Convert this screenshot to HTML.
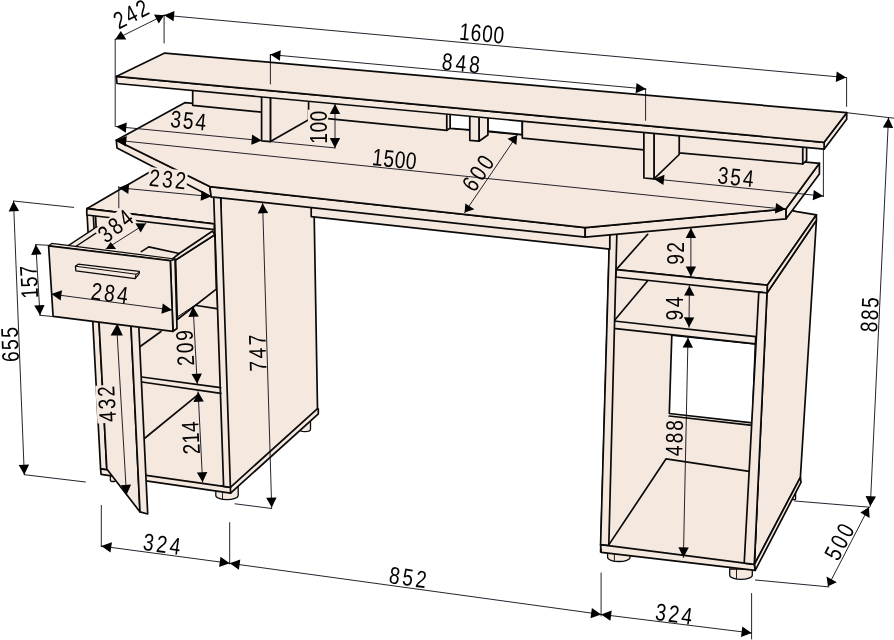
<!DOCTYPE html>
<html><head><meta charset="utf-8"><title>Desk drawing</title>
<style>
html,body{margin:0;padding:0;background:#fff;}
svg{display:block;will-change:transform;}
text{font-family:"Liberation Sans",sans-serif;fill:#000;}
</style></head><body>
<svg width="894" height="640" viewBox="0 0 894 640">
<rect width="894" height="640" fill="#fff"/>
<path d="M115.2,39.4 L115.2,126.6" fill="none" stroke="#0d0a16" stroke-width="0.9" stroke-linecap="round" stroke-linejoin="round"/>
<path d="M164.1,15.2 L164.1,43.0" fill="none" stroke="#0d0a16" stroke-width="0.9" stroke-linecap="round" stroke-linejoin="round"/>
<path d="M270.4,54.6 L270.4,84.0" fill="none" stroke="#0d0a16" stroke-width="0.9" stroke-linecap="round" stroke-linejoin="round"/>
<path d="M86.8,208.7 L160.0,166.0 L240.0,185.0 L214.3,224.0 Z" fill="#f5e8df" stroke="#0a0a0a" stroke-width="1.7" stroke-linejoin="round" stroke-linecap="round"/>
<path d="M86.8,208.7 L214.3,224.0 L225.5,488.0 L100.6,468.9 Z" fill="#f5e8df" stroke="#0a0a0a" stroke-width="1.7" stroke-linejoin="round" stroke-linecap="round"/>
<path d="M299.5,415.0 L299.5,429.2 A5.5,2.4 0 0 0 310.5,429.2 L310.5,415.0 Z" fill="#f5e8df" stroke="#0a0a0a" stroke-width="1.3"/>
<path d="M215.8,486.0 L215.8,495.4 A11.2,4.2 0 0 0 238.2,495.4 L238.2,486.0 Z" fill="#f5e8df" stroke="#0a0a0a" stroke-width="1.3"/>
<path d="M222.5,486.0 L222.5,499.0" fill="none" stroke="#0a0a0a" stroke-width="0.9"/>
<path d="M220.7,196.0 L314.0,205.0 L317.5,408.7 L318.3,409.0 L318.3,413.8 L230.6,493.2 L225.0,487.0 Z" fill="#f5e8df" stroke="#0a0a0a" stroke-width="1.7" stroke-linejoin="round" stroke-linecap="round"/>
<path d="M230.4,487.3 L317.5,408.7" fill="none" stroke="#0a0a0a" stroke-width="1.7" stroke-linecap="round" stroke-linejoin="round"/>
<path d="M110.4,474.0 L110.4,480.4 A2.5,1.1 0 0 0 115.5,480.4 L115.5,474.0 Z" fill="#f5e8df" stroke="#0a0a0a" stroke-width="1.3"/>
<path d="M100.6,468.9 L230.4,487.3 L230.6,493.2 L101.1,474.3 Z" fill="#f5e8df" stroke="#0a0a0a" stroke-width="1.7" stroke-linejoin="round" stroke-linecap="round"/>
<path d="M213.7,196.0 L220.7,197.0 L230.4,487.3 L223.6,486.3 Z" fill="#f5e8df" stroke="#0a0a0a" stroke-width="1.7" stroke-linejoin="round" stroke-linecap="round"/>
<path d="M141.8,377.0 L220.6,387.6" fill="none" stroke="#0a0a0a" stroke-width="1.7" stroke-linecap="round" stroke-linejoin="round"/>
<path d="M141.8,382.0 L220.9,393.4" fill="none" stroke="#0a0a0a" stroke-width="1.7" stroke-linecap="round" stroke-linejoin="round"/>
<path d="M139.5,347.0 L161.0,331.5" fill="none" stroke="#0a0a0a" stroke-width="1.7" stroke-linecap="round" stroke-linejoin="round"/>
<path d="M144.4,438.5 L197.8,394.9" fill="none" stroke="#0a0a0a" stroke-width="1.7" stroke-linecap="round" stroke-linejoin="round"/>
<path d="M93.4,216.4 L106.8,468.9" fill="none" stroke="#0a0a0a" stroke-width="1.7" stroke-linecap="round" stroke-linejoin="round"/>
<path d="M95.6,216.4 L96.3,231.0" fill="none" stroke="#0a0a0a" stroke-width="1.7" stroke-linecap="round" stroke-linejoin="round"/>
<rect x="213.6" y="268.5" width="2.2" height="9.8" rx="1" fill="#f5e8df" stroke="#0a0a0a" stroke-width="1"/>
<path d="M86.8,208.7 L214.3,223.8 L214.3,229.6 L86.8,215.0 Z" fill="#f5e8df" stroke="#0a0a0a" stroke-width="1.7" stroke-linejoin="round" stroke-linecap="round"/>
<path d="M98.8,318.0 L106.8,468.9 L140.0,511.9 L130.6,318.0 Z" fill="#f5e8df" stroke="#0a0a0a" stroke-width="1.7" stroke-linejoin="round" stroke-linecap="round"/>
<path d="M130.6,318.0 L138.4,318.0 L147.7,514.0 L140.0,511.9 Z" fill="#f5e8df" stroke="#0a0a0a" stroke-width="1.7" stroke-linejoin="round" stroke-linecap="round"/>
<path d="M175.6,260.0 L214.8,234.7 L216.3,289.1 L177.3,319.5 Z" fill="#f5e8df" stroke="#0a0a0a" stroke-width="1.7" stroke-linejoin="round" stroke-linecap="round"/>
<path d="M177.2,317.0 L199.6,302.3" fill="none" stroke="#0a0a0a" stroke-width="1.0" stroke-linecap="round" stroke-linejoin="round"/>
<path d="M196.5,305.5 L216.8,308.6" fill="none" stroke="#0a0a0a" stroke-width="1.7" stroke-linecap="round" stroke-linejoin="round"/>
<path d="M66.0,250.0 L97.3,229.0 L214.0,230.0 L172.0,263.0 Z" fill="#f5e8df" stroke="none" stroke-width="1.7" stroke-linejoin="round" stroke-linecap="round"/>
<path d="M170.3,260.6 L179.2,253.5 L212.6,231.0 L214.8,234.7 L175.6,260.0 Z" fill="#f5e8df" stroke="#0a0a0a" stroke-width="1.7" stroke-linejoin="round" stroke-linecap="round"/>
<path d="M65.6,247.4 L95.6,227.6 Q98.6,226.4 99.6,229.0 Q99.8,230.6 98.6,231.4 L71.6,249.2" fill="#f5e8df" stroke="#0a0a0a" stroke-width="1.3" stroke-linejoin="round"/>
<path d="M141.3,251.6 L148.8,246.9 L179.2,253.5" fill="none" stroke="#0a0a0a" stroke-width="1.7" stroke-linecap="round" stroke-linejoin="round"/>
<path d="M170.3,260.6 L175.0,259.0 L177.0,328.5 L173.0,331.3 Z" fill="#f5e8df" stroke="#0a0a0a" stroke-width="1.7" stroke-linejoin="round" stroke-linecap="round"/>
<path d="M117.3,323.5 L110.6,335.6 L122.8,335.6 Z" fill="#000"/>
<path d="M48.6,245.8 L51.8,243.4 L175.0,259.0 L170.3,260.6 Z" fill="#f5e8df" stroke="#0a0a0a" stroke-width="1.2" stroke-linejoin="round" stroke-linecap="round"/>
<path d="M48.6,245.8 L170.3,260.6 L173.0,331.3 L53.1,316.4 Z" fill="#f5e8df" stroke="#0a0a0a" stroke-width="1.7" stroke-linejoin="round" stroke-linecap="round"/>
<path d="M75.4,266.2 L78.2,264.2 L139.3,271.4 L139.3,273.3 L135.1,278.6 L75.9,270.9 Z" fill="#f5e8df" stroke="#0a0a0a" stroke-width="1.3" stroke-linejoin="round" stroke-linecap="round"/>
<path d="M75.4,266.2 L136.0,274.2 L139.3,272.2" fill="none" stroke="#0a0a0a" stroke-width="1.0" stroke-linecap="round" stroke-linejoin="round"/>
<path d="M136.0,274.2 L135.1,278.6" fill="none" stroke="#0a0a0a" stroke-width="1.0" stroke-linecap="round" stroke-linejoin="round"/>
<path d="M792.3,488.0 L792.3,499.1 A1.7,0.7 0 0 0 795.6,499.1 L795.6,488.0 Z" fill="#f5e8df" stroke="#0a0a0a" stroke-width="1.3"/>
<path d="M767.0,293.0 L816.4,220.3 L800.4,477.3 L754.3,564.7 Z" fill="#f5e8df" stroke="#0a0a0a" stroke-width="1.7" stroke-linejoin="round" stroke-linecap="round"/>
<path d="M754.3,564.7 L800.4,477.3 L801.0,482.4 L755.2,570.4 Z" fill="#f5e8df" stroke="#0a0a0a" stroke-width="1.7" stroke-linejoin="round" stroke-linecap="round"/>
<path d="M609.8,232.0 L768.3,232.0 L754.3,566.0 L600.6,552.0 Z" fill="#f5e8df" stroke="#0a0a0a" stroke-width="1.7" stroke-linejoin="round" stroke-linecap="round"/>
<path d="M616.2,269.6 L767.3,285.2 L816.4,214.8 L796.9,211.7 L700.0,190.0 L609.8,232.0 Z" fill="#f5e8df" stroke="#0a0a0a" stroke-width="1.7" stroke-linejoin="round" stroke-linecap="round"/>
<path d="M767.3,285.2 L816.4,214.8 L816.4,220.3 L767.0,293.0 Z" fill="#f5e8df" stroke="#0a0a0a" stroke-width="1.7" stroke-linejoin="round" stroke-linecap="round"/>
<path d="M671.8,335.2 L755.4,343.9 L752.3,422.9 L669.3,413.5 Z" fill="#fff" stroke="#0a0a0a" stroke-width="1.7" stroke-linejoin="round" stroke-linecap="round"/>
<path d="M669.2,416.0 L752.2,425.4" fill="none" stroke="#0a0a0a" stroke-width="1.7" stroke-linecap="round" stroke-linejoin="round"/>
<path d="M608.8,544.9 L666.1,458.8 L749.1,471.3" fill="none" stroke="#0a0a0a" stroke-width="1.7" stroke-linecap="round" stroke-linejoin="round"/>
<path d="M607.6,551.0 L607.6,557.3 A11.2,4.2 0 0 0 630.1,557.3 L630.1,551.0 Z" fill="#f5e8df" stroke="#0a0a0a" stroke-width="1.3"/>
<path d="M614.4,551.0 L614.4,560.9" fill="none" stroke="#0a0a0a" stroke-width="0.9"/>
<path d="M729.7,569.0 L729.7,575.2 A11.3,4.2 0 0 0 752.3,575.2 L752.3,569.0 Z" fill="#f5e8df" stroke="#0a0a0a" stroke-width="1.3"/>
<path d="M736.5,569.0 L736.5,578.8" fill="none" stroke="#0a0a0a" stroke-width="0.9"/>
<path d="M600.6,544.6 L754.3,564.4 L755.2,570.4 L601.3,552.3 Z" fill="#f5e8df" stroke="#0a0a0a" stroke-width="1.7" stroke-linejoin="round" stroke-linecap="round"/>
<path d="M616.2,269.6 L767.3,285.2 L767.0,293.0 L615.8,277.0 Z" fill="#f5e8df" stroke="#0a0a0a" stroke-width="1.7" stroke-linejoin="round" stroke-linecap="round"/>
<path d="M614.0,321.0 L755.8,336.7 L755.4,343.9 L613.6,328.3 Z" fill="#f5e8df" stroke="#0a0a0a" stroke-width="1.7" stroke-linejoin="round" stroke-linecap="round"/>
<path d="M616.2,269.6 L647.7,234.3" fill="none" stroke="#0a0a0a" stroke-width="1.7" stroke-linecap="round" stroke-linejoin="round"/>
<path d="M614.0,321.0 L647.3,281.3" fill="none" stroke="#0a0a0a" stroke-width="1.7" stroke-linecap="round" stroke-linejoin="round"/>
<path d="M609.6,232.0 L616.9,232.0 L608.8,545.4 L600.6,544.6 Z" fill="#f5e8df" stroke="#0a0a0a" stroke-width="1.7" stroke-linejoin="round" stroke-linecap="round"/>
<path d="M758.8,292.2 L767.0,293.0 L754.3,564.4 L744.2,563.2 Z" fill="#f5e8df" stroke="#0a0a0a" stroke-width="1.7" stroke-linejoin="round" stroke-linecap="round"/>
<path d="M311.2,205.0 L311.2,216.7 L609.8,249.1 L609.8,232.0 Z" fill="#f5e8df" stroke="#0a0a0a" stroke-width="1.7" stroke-linejoin="round" stroke-linecap="round"/>
<path d="M116.3,140.2 L209.8,186.6 L211.2,196.8 L117.0,148.0 Z" fill="#f5e8df" stroke="#0a0a0a" stroke-width="1.7" stroke-linejoin="round" stroke-linecap="round"/>
<path d="M209.8,186.6 L585.2,227.6 L585.2,237.2 L211.2,196.8 Z" fill="#f5e8df" stroke="#0a0a0a" stroke-width="1.7" stroke-linejoin="round" stroke-linecap="round"/>
<path d="M585.2,227.6 L786.1,208.8 L786.1,218.8 L585.2,237.2 Z" fill="#f5e8df" stroke="#0a0a0a" stroke-width="1.7" stroke-linejoin="round" stroke-linecap="round"/>
<path d="M786.1,208.8 L819.4,163.3 L819.4,173.9 L786.1,218.8 Z" fill="#f5e8df" stroke="#0a0a0a" stroke-width="1.7" stroke-linejoin="round" stroke-linecap="round"/>
<path d="M185.2,102.6 L116.3,140.2 L209.8,186.6 L585.2,227.6 L786.1,208.8 L819.4,163.3 Z" fill="#f5e8df" stroke="#0a0a0a" stroke-width="1.7" stroke-linejoin="round" stroke-linecap="round"/>
<path d="M450.1,108.0 L469.8,110.0 L469.8,129.9 L450.1,128.3 Z" fill="#fff" stroke="#0a0a0a" stroke-width="1.7" stroke-linejoin="round" stroke-linecap="round"/>
<path d="M487.9,112.0 L522.3,116.0 L522.3,134.5 L487.9,131.1 Z" fill="#fff" stroke="#0a0a0a" stroke-width="1.7" stroke-linejoin="round" stroke-linecap="round"/>
<path d="M192.7,85.0 L192.7,105.3 L446.8,130.3 L446.8,108.0 Z" fill="#f5e8df" stroke="#0a0a0a" stroke-width="1.7" stroke-linejoin="round" stroke-linecap="round"/>
<path d="M446.8,108.0 L450.1,108.0 L450.1,128.3 L446.8,130.3 Z" fill="#f5e8df" stroke="#0a0a0a" stroke-width="1.7" stroke-linejoin="round" stroke-linecap="round"/>
<path d="M522.3,116.0 L522.3,138.2 L643.9,149.9 L643.9,128.0 Z" fill="#f5e8df" stroke="#0a0a0a" stroke-width="1.7" stroke-linejoin="round" stroke-linecap="round"/>
<path d="M679.2,131.0 L679.2,152.8 L802.8,164.0 L802.8,142.0 Z" fill="#f5e8df" stroke="#0a0a0a" stroke-width="1.7" stroke-linejoin="round" stroke-linecap="round"/>
<path d="M802.8,142.0 L806.6,142.0 L806.6,160.4 L802.8,164.0 Z" fill="#f5e8df" stroke="#0a0a0a" stroke-width="1.7" stroke-linejoin="round" stroke-linecap="round"/>
<path d="M270.4,88.0 L308.6,92.0 L308.6,119.8 L270.4,141.6 Z" fill="#f5e8df" stroke="#0a0a0a" stroke-width="1.7" stroke-linejoin="round" stroke-linecap="round"/>
<path d="M261.6,88.0 L270.4,88.0 L270.4,141.6 L261.6,140.8 Z" fill="#f5e8df" stroke="#0a0a0a" stroke-width="1.7" stroke-linejoin="round" stroke-linecap="round"/>
<path d="M479.0,108.0 L487.9,109.0 L487.9,135.0 L479.0,141.2 Z" fill="#f5e8df" stroke="#0a0a0a" stroke-width="1.7" stroke-linejoin="round" stroke-linecap="round"/>
<path d="M469.8,108.0 L479.0,108.0 L479.0,141.2 L469.8,140.4 Z" fill="#f5e8df" stroke="#0a0a0a" stroke-width="1.7" stroke-linejoin="round" stroke-linecap="round"/>
<path d="M654.0,124.0 L679.2,126.0 L679.2,154.5 L654.0,178.9 Z" fill="#f5e8df" stroke="#0a0a0a" stroke-width="1.7" stroke-linejoin="round" stroke-linecap="round"/>
<path d="M643.9,124.0 L654.0,124.0 L654.0,178.9 L643.9,178.0 Z" fill="#f5e8df" stroke="#0a0a0a" stroke-width="1.7" stroke-linejoin="round" stroke-linecap="round"/>
<path d="M846.7,112.7 L846.7,119.3 L824.1,149.2 L824.1,142.3 Z" fill="#f5e8df" stroke="#0a0a0a" stroke-width="1.7" stroke-linejoin="round" stroke-linecap="round"/>
<path d="M116.3,76.4 L824.1,142.3 L824.1,149.2 L117.0,83.5 Z" fill="#f5e8df" stroke="#0a0a0a" stroke-width="1.7" stroke-linejoin="round" stroke-linecap="round"/>
<path d="M164.7,53.1 L846.7,112.7 L824.1,142.3 L116.3,76.4 Z" fill="#f5e8df" stroke="#0a0a0a" stroke-width="1.7" stroke-linejoin="round" stroke-linecap="round"/>
<rect transform="translate(318.0,127.2) rotate(-90.0)" x="-17.5" y="-10.1" width="35.0" height="20.2" fill="#f5e8df"/>
<rect transform="translate(167.7,179.0) rotate(5.5)" x="-19.5" y="-10.1" width="39.0" height="20.2" fill="#f5e8df"/>
<rect transform="translate(115.3,225.8) rotate(-38.7)" x="-19.5" y="-10.1" width="39.0" height="20.2" fill="#f5e8df"/>
<rect transform="translate(106.5,404.0) rotate(-93.4)" x="-19.0" y="-10.1" width="38.0" height="20.2" fill="#f5e8df"/>
<path d="M115.2,39.4 L164.1,15.2" fill="none" stroke="#0d0a16" stroke-width="0.9" stroke-linecap="round" stroke-linejoin="round"/>
<path d="M115.2,39.4 L120.8,30.9 L126.4,39.6 Z" fill="#000"/>
<path d="M164.1,15.2 L154.0,14.4 L158.8,23.4 Z" fill="#000"/>
<text transform="translate(130.9,13.8) rotate(-27.0) scale(0.8,1)" x="0" y="8.6" text-anchor="middle" textLength="45.0" lengthAdjust="spacing" font-size="24">242</text>
<path d="M164.1,15.2 L846.2,77.6" fill="none" stroke="#0d0a16" stroke-width="0.9" stroke-linecap="round" stroke-linejoin="round"/>
<path d="M164.1,15.2 L173.6,21.3 L174.5,10.9 Z" fill="#000"/>
<path d="M846.2,77.6 L836.7,71.5 L835.8,81.9 Z" fill="#000"/>
<path d="M846.6,77.6 L846.6,106.4" fill="none" stroke="#0d0a16" stroke-width="0.9" stroke-linecap="round" stroke-linejoin="round"/>
<text transform="translate(481.8,33.0) rotate(5.2) scale(0.8,1)" x="0" y="8.6" text-anchor="middle" textLength="56.2" lengthAdjust="spacing" font-size="24">1600</text>
<path d="M270.4,54.6 L270.4,84.0" fill="none" stroke="#0d0a16" stroke-width="0.9" stroke-linecap="round" stroke-linejoin="round"/>
<path d="M270.4,54.6 L646.0,89.0" fill="none" stroke="#0d0a16" stroke-width="0.9" stroke-linecap="round" stroke-linejoin="round"/>
<path d="M270.4,54.6 L279.9,60.7 L280.8,50.3 Z" fill="#000"/>
<path d="M646.0,89.0 L636.5,82.9 L635.6,93.3 Z" fill="#000"/>
<path d="M645.6,89.0 L645.6,120.3" fill="none" stroke="#0d0a16" stroke-width="0.9" stroke-linecap="round" stroke-linejoin="round"/>
<text transform="translate(461.0,62.8) rotate(5.3) scale(0.8,1)" x="0" y="8.6" text-anchor="middle" textLength="47.5" lengthAdjust="spacing" font-size="24">848</text>
<path d="M116.3,126.6 L261.7,140.6" fill="none" stroke="#0d0a16" stroke-width="0.9" stroke-linecap="round" stroke-linejoin="round"/>
<path d="M116.3,126.6 L125.8,132.7 L126.8,122.4 Z" fill="#000"/>
<path d="M261.7,140.6 L252.2,134.5 L251.2,144.8 Z" fill="#000"/>
<text transform="translate(188.4,120.3) rotate(5.6) scale(0.8,1)" x="0" y="8.6" text-anchor="middle" textLength="45.0" lengthAdjust="spacing" font-size="24">354</text>
<path d="M270.4,141.6 L335.0,147.9" fill="none" stroke="#0d0a16" stroke-width="0.9" stroke-linecap="round" stroke-linejoin="round"/>
<path d="M335.0,104.0 L335.0,147.9" fill="none" stroke="#0d0a16" stroke-width="0.9" stroke-linecap="round" stroke-linejoin="round"/>
<path d="M335.0,104.0 L329.8,114.0 L340.2,114.0 Z" fill="#000"/>
<path d="M335.0,147.9 L340.2,137.9 L329.8,137.9 Z" fill="#000"/>
<text transform="translate(318.0,127.2) rotate(-90.0) scale(0.8,1)" x="0" y="8.6" text-anchor="middle" textLength="41.2" lengthAdjust="spacing" font-size="24">100</text>
<path d="M116.3,140.2 L785.5,209.3" fill="none" stroke="#0d0a16" stroke-width="0.9" stroke-linecap="round" stroke-linejoin="round"/>
<path d="M116.3,140.2 L125.7,146.4 L126.8,136.1 Z" fill="#000"/>
<path d="M785.5,209.3 L776.1,203.1 L775.0,213.4 Z" fill="#000"/>
<text transform="translate(394.5,158.8) rotate(5.9) scale(0.8,1)" x="0" y="8.6" text-anchor="middle" textLength="55.6" lengthAdjust="spacing" font-size="24">1500</text>
<path d="M517.2,135.3 L464.6,212.6" fill="none" stroke="#0d0a16" stroke-width="0.9" stroke-linecap="round" stroke-linejoin="round"/>
<path d="M517.2,135.0 L507.5,138.7 L516.4,145.0 Z" fill="#000"/>
<path d="M464.6,212.6 L465.3,203.5 L474.4,209.2 Z" fill="#000"/>
<text transform="translate(477.8,173.0) rotate(-56.0) scale(0.8,1)" x="0" y="8.6" text-anchor="middle" textLength="46.2" lengthAdjust="spacing" font-size="24">600</text>
<path d="M654.0,178.9 L823.2,196.1" fill="none" stroke="#0d0a16" stroke-width="0.9" stroke-linecap="round" stroke-linejoin="round"/>
<path d="M654.0,178.9 L663.4,185.1 L664.5,174.7 Z" fill="#000"/>
<path d="M823.2,196.1 L813.8,189.9 L812.7,200.3 Z" fill="#000"/>
<path d="M823.4,149.0 L823.4,196.6" fill="none" stroke="#0d0a16" stroke-width="0.9" stroke-linecap="round" stroke-linejoin="round"/>
<text transform="translate(735.8,176.6) rotate(5.8) scale(0.8,1)" x="0" y="8.6" text-anchor="middle" textLength="45.0" lengthAdjust="spacing" font-size="24">354</text>
<path d="M118.8,186.5 L118.8,207.8" fill="none" stroke="#0d0a16" stroke-width="0.9" stroke-linecap="round" stroke-linejoin="round"/>
<path d="M118.8,187.8 L211.0,196.5" fill="none" stroke="#0d0a16" stroke-width="0.9" stroke-linecap="round" stroke-linejoin="round"/>
<path d="M118.8,187.8 L128.3,193.9 L129.2,183.6 Z" fill="#000"/>
<path d="M211.0,196.5 L201.5,190.4 L200.6,200.7 Z" fill="#000"/>
<text transform="translate(167.7,179.0) rotate(5.5) scale(0.8,1)" x="0" y="8.6" text-anchor="middle" textLength="46.2" lengthAdjust="spacing" font-size="24">232</text>
<path d="M105.9,248.9 L145.9,223.5" fill="none" stroke="#0d0a16" stroke-width="0.9" stroke-linecap="round" stroke-linejoin="round"/>
<path d="M145.9,223.5 L135.4,223.2 L140.7,232.4 Z" fill="#000"/>
<path d="M105.9,248.9 L116.1,248.9 L110.6,242.0 Z" fill="#000"/>
<text transform="translate(115.3,225.8) rotate(-38.7) scale(0.8,1)" x="0" y="8.6" text-anchor="middle" textLength="46.2" lengthAdjust="spacing" font-size="24">384</text>
<path d="M35.8,244.6 L48.4,245.3" fill="none" stroke="#0d0a16" stroke-width="0.9" stroke-linecap="round" stroke-linejoin="round"/>
<path d="M40.0,315.3 L52.5,316.5" fill="none" stroke="#0d0a16" stroke-width="0.9" stroke-linecap="round" stroke-linejoin="round"/>
<path d="M35.8,244.6 L40.0,315.3" fill="none" stroke="#0d0a16" stroke-width="0.9" stroke-linecap="round" stroke-linejoin="round"/>
<path d="M35.8,244.6 L31.2,254.9 L41.6,254.3 Z" fill="#000"/>
<path d="M40.0,315.3 L44.6,305.0 L34.2,305.6 Z" fill="#000"/>
<text transform="translate(28.8,282.0) rotate(-93.4) scale(0.8,1)" x="0" y="8.6" text-anchor="middle" textLength="41.2" lengthAdjust="spacing" font-size="24">157</text>
<path d="M51.4,294.1 L172.0,310.0" fill="none" stroke="#0d0a16" stroke-width="0.9" stroke-linecap="round" stroke-linejoin="round"/>
<path d="M51.4,294.1 L60.6,300.6 L62.0,290.3 Z" fill="#000"/>
<path d="M172.0,310.0 L162.8,303.5 L161.4,313.8 Z" fill="#000"/>
<text transform="translate(109.6,293.0) rotate(7.6) scale(0.8,1)" x="0" y="8.6" text-anchor="middle" textLength="46.2" lengthAdjust="spacing" font-size="24">284</text>
<path d="M13.5,201.0 L73.7,207.4" fill="none" stroke="#0d0a16" stroke-width="0.9" stroke-linecap="round" stroke-linejoin="round"/>
<path d="M24.3,474.7 L85.4,482.0" fill="none" stroke="#0d0a16" stroke-width="0.9" stroke-linecap="round" stroke-linejoin="round"/>
<path d="M13.5,201.2 L24.3,474.7" fill="none" stroke="#0d0a16" stroke-width="0.9" stroke-linecap="round" stroke-linejoin="round"/>
<path d="M13.5,201.2 L8.7,211.4 L19.1,211.0 Z" fill="#000"/>
<path d="M24.3,474.7 L29.1,464.5 L18.7,464.9 Z" fill="#000"/>
<text transform="translate(9.7,344.7) rotate(-92.2) scale(0.8,1)" x="0" y="8.6" text-anchor="middle" textLength="43.8" lengthAdjust="spacing" font-size="24">655</text>
<path d="M116.9,330.0 L126.5,494.9" fill="none" stroke="#0d0a16" stroke-width="0.9" stroke-linecap="round" stroke-linejoin="round"/>
<path d="M126.5,494.9 L131.1,484.6 L120.7,485.2 Z" fill="#000"/>
<text transform="translate(106.5,404.0) rotate(-93.4) scale(0.8,1)" x="0" y="8.6" text-anchor="middle" textLength="45.0" lengthAdjust="spacing" font-size="24">432</text>
<path d="M193.1,306.7 L197.2,383.7" fill="none" stroke="#0d0a16" stroke-width="0.9" stroke-linecap="round" stroke-linejoin="round"/>
<path d="M193.1,306.7 L188.4,317.0 L198.8,316.4 Z" fill="#000"/>
<path d="M197.2,383.7 L201.9,373.4 L191.5,374.0 Z" fill="#000"/>
<text transform="translate(184.7,347.9) rotate(-93.0) scale(0.8,1)" x="0" y="8.6" text-anchor="middle" textLength="45.0" lengthAdjust="spacing" font-size="24">209</text>
<path d="M198.1,391.7 L202.6,482.3" fill="none" stroke="#0d0a16" stroke-width="0.9" stroke-linecap="round" stroke-linejoin="round"/>
<path d="M198.1,391.7 L193.4,401.9 L203.8,401.4 Z" fill="#000"/>
<path d="M202.6,482.3 L207.3,472.1 L196.9,472.6 Z" fill="#000"/>
<text transform="translate(190.5,438.0) rotate(-92.8) scale(0.8,1)" x="0" y="8.6" text-anchor="middle" textLength="41.2" lengthAdjust="spacing" font-size="24">214</text>
<path d="M262.6,203.2 L271.7,507.6" fill="none" stroke="#0d0a16" stroke-width="0.9" stroke-linecap="round" stroke-linejoin="round"/>
<path d="M262.6,203.2 L257.7,213.4 L268.1,213.0 Z" fill="#000"/>
<path d="M271.7,507.6 L276.6,497.4 L266.2,497.8 Z" fill="#000"/>
<path d="M235.0,503.8 L271.7,508.5" fill="none" stroke="#0d0a16" stroke-width="0.9" stroke-linecap="round" stroke-linejoin="round"/>
<text transform="translate(257.3,353.1) rotate(-91.7) scale(0.8,1)" x="0" y="8.6" text-anchor="middle" textLength="46.2" lengthAdjust="spacing" font-size="24">747</text>
<path d="M690.9,228.0 L690.9,276.6" fill="none" stroke="#0d0a16" stroke-width="0.9" stroke-linecap="round" stroke-linejoin="round"/>
<path d="M690.9,228.0 L685.7,238.0 L696.1,238.0 Z" fill="#000"/>
<path d="M690.9,276.6 L696.1,266.6 L685.7,266.6 Z" fill="#000"/>
<text transform="translate(675.4,253.4) rotate(-90.0) scale(0.8,1)" x="0" y="8.6" text-anchor="middle" textLength="28.1" lengthAdjust="spacing" font-size="24">92</text>
<path d="M689.4,285.7 L689.0,327.3" fill="none" stroke="#0d0a16" stroke-width="0.9" stroke-linecap="round" stroke-linejoin="round"/>
<path d="M689.4,285.7 L684.1,295.6 L694.5,295.7 Z" fill="#000"/>
<path d="M689.0,327.3 L694.3,317.4 L683.9,317.3 Z" fill="#000"/>
<text transform="translate(674.0,308.5) rotate(-90.0) scale(0.8,1)" x="0" y="8.6" text-anchor="middle" textLength="30.0" lengthAdjust="spacing" font-size="24">94</text>
<path d="M688.0,337.7 L683.4,557.4" fill="none" stroke="#0d0a16" stroke-width="0.9" stroke-linecap="round" stroke-linejoin="round"/>
<path d="M688.0,337.7 L682.6,347.6 L693.0,347.8 Z" fill="#000"/>
<path d="M683.4,557.4 L688.8,547.5 L678.4,547.3 Z" fill="#000"/>
<text transform="translate(674.0,438.0) rotate(-88.8) scale(0.8,1)" x="0" y="8.6" text-anchor="middle" textLength="45.0" lengthAdjust="spacing" font-size="24">488</text>
<path d="M846.7,112.7 L894.0,118.2" fill="none" stroke="#0d0a16" stroke-width="0.9" stroke-linecap="round" stroke-linejoin="round"/>
<path d="M888.5,117.7 L870.3,506.3" fill="none" stroke="#0d0a16" stroke-width="0.9" stroke-linecap="round" stroke-linejoin="round"/>
<path d="M888.5,117.7 L882.8,127.4 L893.2,127.9 Z" fill="#000"/>
<path d="M870.3,506.3 L876.0,496.6 L865.6,496.1 Z" fill="#000"/>
<text transform="translate(869.3,314.7) rotate(-87.3) scale(0.8,1)" x="0" y="8.6" text-anchor="middle" textLength="43.8" lengthAdjust="spacing" font-size="24">885</text>
<path d="M794.6,501.0 L869.6,507.2" fill="none" stroke="#0d0a16" stroke-width="0.9" stroke-linecap="round" stroke-linejoin="round"/>
<path d="M755.4,580.0 L829.0,586.9" fill="none" stroke="#0d0a16" stroke-width="0.9" stroke-linecap="round" stroke-linejoin="round"/>
<path d="M869.0,507.2 L828.0,586.3" fill="none" stroke="#0d0a16" stroke-width="0.9" stroke-linecap="round" stroke-linejoin="round"/>
<path d="M869.0,507.2 L860.3,512.5 L869.6,518.1 Z" fill="#000"/>
<path d="M828.0,586.3 L826.5,576.6 L836.8,582.2 Z" fill="#000"/>
<text transform="translate(839.0,541.6) rotate(-62.6) scale(0.8,1)" x="0" y="8.6" text-anchor="middle" textLength="46.2" lengthAdjust="spacing" font-size="24">500</text>
<path d="M101.3,505.4 L101.3,546.8" fill="none" stroke="#0d0a16" stroke-width="0.9" stroke-linecap="round" stroke-linejoin="round"/>
<path d="M229.7,522.6 L229.7,564.0" fill="none" stroke="#0d0a16" stroke-width="0.9" stroke-linecap="round" stroke-linejoin="round"/>
<path d="M601.1,573.0 L601.1,616.0" fill="none" stroke="#0d0a16" stroke-width="0.9" stroke-linecap="round" stroke-linejoin="round"/>
<path d="M751.6,593.5 L751.6,639.0" fill="none" stroke="#0d0a16" stroke-width="0.9" stroke-linecap="round" stroke-linejoin="round"/>
<path d="M101.3,546.1 L229.7,563.3" fill="none" stroke="#0d0a16" stroke-width="0.9" stroke-linecap="round" stroke-linejoin="round"/>
<path d="M101.3,546.1 L110.5,552.6 L111.9,542.3 Z" fill="#000"/>
<path d="M229.7,563.3 L220.5,556.8 L219.1,567.1 Z" fill="#000"/>
<path d="M229.7,563.3 L601.1,614.4" fill="none" stroke="#0d0a16" stroke-width="0.9" stroke-linecap="round" stroke-linejoin="round"/>
<path d="M229.7,563.3 L238.9,569.8 L240.3,559.5 Z" fill="#000"/>
<path d="M601.1,614.4 L591.9,607.9 L590.5,618.2 Z" fill="#000"/>
<path d="M601.1,614.4 L751.6,633.0" fill="none" stroke="#0d0a16" stroke-width="0.9" stroke-linecap="round" stroke-linejoin="round"/>
<path d="M601.1,614.4 L610.4,620.8 L611.7,610.5 Z" fill="#000"/>
<path d="M751.6,633.0 L742.3,626.6 L741.0,636.9 Z" fill="#000"/>
<text transform="translate(161.9,543.8) rotate(7.6) scale(0.8,1)" x="0" y="8.6" text-anchor="middle" textLength="46.9" lengthAdjust="spacing" font-size="24">324</text>
<text transform="translate(408.0,577.0) rotate(7.8) scale(0.8,1)" x="0" y="8.6" text-anchor="middle" textLength="46.9" lengthAdjust="spacing" font-size="24">852</text>
<text transform="translate(674.0,613.8) rotate(7.7) scale(0.8,1)" x="0" y="8.6" text-anchor="middle" textLength="46.2" lengthAdjust="spacing" font-size="24">324</text>
</svg>
</body></html>
